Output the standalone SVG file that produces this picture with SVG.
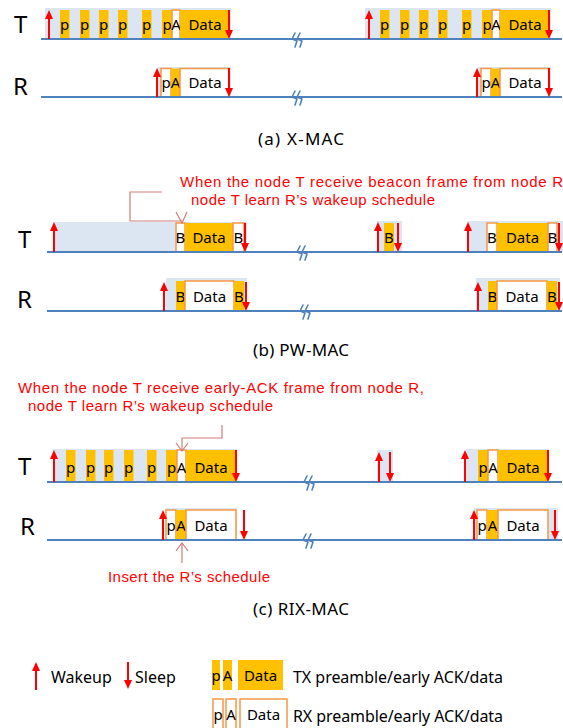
<svg xmlns="http://www.w3.org/2000/svg" width="563" height="728" viewBox="0 0 563 728">
<defs>
<style>
.bg{fill:#DCE6F2}
.tx{fill:#FFC000}
.rx{fill:#FFFFFF;stroke:#F79646;stroke-width:1.5}
.axis{stroke:#4F81BD;stroke-width:2;fill:none}
.arr{stroke:#FF0000;stroke-width:2;fill:none}
.up{marker-end:url(#ah)}
.brk{stroke:#4F81BD;stroke-width:1.6;fill:none;stroke-linejoin:round;stroke-linecap:round}
.call{stroke:#CD7F7B;stroke-width:1.2;fill:none}
text{font-family:"Noto Sans","Liberation Sans",sans-serif;fill:#000}
.b{font-size:15px;text-anchor:middle}
.big{font-size:24px}
.cap{font-size:17px;text-anchor:middle}
.note{font-family:"Liberation Sans",Arial,sans-serif;font-size:15px;fill:#FF0000}
.leg{font-size:16px}
</style>
<marker id="ah" markerWidth="9" markerHeight="8" refX="5" refY="4" orient="auto" markerUnits="userSpaceOnUse"><path d="M0,0 L9,4 L0,8 z" fill="#FF0000"/></marker>
<path id="brk" class="brk" d="M-3,-7 L-6,-1 L-1,1 L-3,7 M2,-7 L-1,-1 L4,1 L2,7"/>
</defs>
<rect width="563" height="728" fill="#FFFFFF"/>

<!-- (a) X-MAC -->
<g id="xmac">
<text class="big" x="14" y="33">T</text>
<text class="big" x="13" y="95">R</text>
<g id="xmac-T-left">
<rect class="bg" x="45" y="8" width="186" height="31"/>
<rect class="tx" x="60" y="10" width="9.5" height="29"/><text class="b" x="64.7" y="30">p</text>
<rect class="tx" x="80" y="10" width="9.5" height="29"/><text class="b" x="84.7" y="30">p</text>
<rect class="tx" x="99" y="10" width="9.5" height="29"/><text class="b" x="103.7" y="30">p</text>
<rect class="tx" x="118" y="10" width="9.5" height="29"/><text class="b" x="122.7" y="30">p</text>
<rect class="tx" x="142" y="10" width="9.5" height="29"/><text class="b" x="146.7" y="30">p</text>
<rect class="tx" x="162" y="10" width="10" height="29"/><text class="b" x="167" y="30">p</text>
<rect class="rx" x="172" y="10" width="8" height="29"/><text class="b" x="176" y="30">A</text>
<rect class="tx" x="180" y="10" width="49" height="29"/><text class="b" x="205" y="30">Data</text>
</g>
<g id="xmac-T-right" transform="translate(320,0)">
<rect class="bg" x="45" y="8" width="186" height="31"/>
<rect class="tx" x="60" y="10" width="9.5" height="29"/><text class="b" x="64.7" y="30">p</text>
<rect class="tx" x="80" y="10" width="9.5" height="29"/><text class="b" x="84.7" y="30">p</text>
<rect class="tx" x="99" y="10" width="9.5" height="29"/><text class="b" x="103.7" y="30">p</text>
<rect class="tx" x="118" y="10" width="9.5" height="29"/><text class="b" x="122.7" y="30">p</text>
<rect class="tx" x="142" y="10" width="9.5" height="29"/><text class="b" x="146.7" y="30">p</text>
<rect class="tx" x="162" y="10" width="10" height="29"/><text class="b" x="167" y="30">p</text>
<rect class="rx" x="172" y="10" width="8" height="29"/><text class="b" x="176" y="30">A</text>
<rect class="tx" x="180" y="10" width="49" height="29"/><text class="b" x="205" y="30">Data</text>
</g>
<g id="xmac-R-left">
<rect class="bg" x="157" y="67" width="74" height="30"/>
<rect class="rx" x="161" y="68.5" width="10" height="28.5"/><text class="b" x="166" y="88">p</text>
<rect class="tx" x="171" y="68.5" width="9" height="28.5"/><text class="b" x="175.5" y="88">A</text>
<rect class="rx" x="180" y="68.5" width="49" height="28.5"/><text class="b" x="205" y="88">Data</text>
</g>
<g id="xmac-R-right" transform="translate(320,0)">
<rect class="bg" x="157" y="67" width="74" height="30"/>
<rect class="rx" x="161" y="68.5" width="10" height="28.5"/><text class="b" x="166" y="88">p</text>
<rect class="tx" x="171" y="68.5" width="9" height="28.5"/><text class="b" x="175.5" y="88">A</text>
<rect class="rx" x="180" y="68.5" width="49" height="28.5"/><text class="b" x="205" y="88">Data</text>
</g>
<text class="cap" x="301" y="145" textLength="86" lengthAdjust="spacing">(a) X-MAC</text>
</g>

<!-- (b) PW-MAC -->
<g id="pwmac">
<text class="big" x="18" y="248">T</text>
<text class="big" x="17" y="308">R</text>
<text class="note" x="180" y="187" textLength="383" lengthAdjust="spacing">When the node T receive beacon frame from node R</text>
<text class="note" x="191" y="205" textLength="244" lengthAdjust="spacing">node T learn R’s wakeup schedule</text>
<g id="pw-T-left">
<rect class="bg" x="53" y="222" width="194" height="30"/>
<rect class="rx" x="176" y="223" width="9" height="29"/><text class="b" x="180.5" y="243">B</text>
<rect class="tx" x="185" y="223" width="48" height="29"/><text class="b" x="209" y="243">Data</text>
<rect class="rx" x="233" y="223" width="11" height="29"/><text class="b" x="238.5" y="243">B</text>
</g>
<g id="pw-T-mid">
<rect class="bg" x="377" y="221" width="25" height="31"/>
<rect class="tx" x="384" y="223" width="10" height="29"/><text class="b" x="389" y="243">B</text>
</g>
<g id="pw-T-right">
<rect class="bg" x="467" y="221" width="96" height="31"/>
<rect class="rx" x="487" y="223" width="10" height="29"/><text class="b" x="492" y="243">B</text>
<rect class="tx" x="497" y="223" width="51" height="29"/><text class="b" x="522.5" y="243">Data</text>
<rect class="rx" x="548" y="223" width="9" height="29"/><text class="b" x="552.5" y="243">B</text>
</g>
<g id="pw-R-left">
<rect class="bg" x="166" y="278" width="81" height="33"/>
<rect class="tx" x="176" y="281" width="9" height="30"/><text class="b" x="180.5" y="302">B</text>
<rect class="rx" x="185" y="281" width="49" height="30"/><text class="b" x="209.5" y="302">Data</text>
<rect class="tx" x="234" y="281" width="10" height="30"/><text class="b" x="239" y="302">B</text>
</g>
<g id="pw-R-right">
<rect class="bg" x="476" y="278" width="84" height="33"/>
<rect class="tx" x="488" y="281" width="9" height="30"/><text class="b" x="492.5" y="302">B</text>
<rect class="rx" x="497" y="281" width="50" height="30"/><text class="b" x="522" y="302">Data</text>
<rect class="tx" x="547" y="281" width="10" height="30"/><text class="b" x="552" y="302">B</text>
</g>
<text class="cap" x="301" y="356" textLength="96" lengthAdjust="spacing">(b) PW-MAC</text>
</g>

<!-- (c) RIX-MAC -->
<g id="rixmac">
<text class="big" x="18" y="475">T</text>
<text class="big" x="20" y="535">R</text>
<text class="note" x="18" y="393" textLength="406" lengthAdjust="spacing">When the node T receive early-ACK frame from node R,</text>
<text class="note" x="28" y="411" textLength="245" lengthAdjust="spacing">node T learn R’s wakeup schedule</text>
<text class="note" x="108" y="582" textLength="162" lengthAdjust="spacing">Insert the R’s schedule</text>
<g id="rix-T-left">
<rect class="bg" x="53" y="449" width="184" height="33"/>
<rect class="tx" x="66" y="450" width="9.5" height="32"/><text class="b" x="70.7" y="473">p</text>
<rect class="tx" x="86" y="450" width="9.5" height="32"/><text class="b" x="90.7" y="473">p</text>
<rect class="tx" x="104" y="450" width="9.5" height="32"/><text class="b" x="108.7" y="473">p</text>
<rect class="tx" x="124" y="450" width="9.5" height="32"/><text class="b" x="128.7" y="473">p</text>
<rect class="tx" x="147" y="450" width="9.5" height="32"/><text class="b" x="151.7" y="473">p</text>
<rect class="tx" x="166" y="450" width="11" height="32"/><text class="b" x="171.5" y="473">p</text>
<rect class="rx" x="177" y="450" width="9" height="32"/><text class="b" x="181.5" y="473">A</text>
<rect class="tx" x="186" y="450" width="50" height="32"/><text class="b" x="211" y="473">Data</text>
</g>
<g id="rix-T-mid">
<rect class="bg" x="377" y="450" width="16" height="32"/>
</g>
<g id="rix-T-right">
<rect class="bg" x="466" y="449" width="83" height="33"/>
<rect class="tx" x="478" y="450" width="10" height="32"/><text class="b" x="483" y="473">p</text>
<rect class="rx" x="488" y="450" width="10" height="32"/><text class="b" x="493" y="473">A</text>
<rect class="tx" x="498" y="450" width="50" height="32"/><text class="b" x="523" y="473">Data</text>
</g>
<g id="rix-R-left">
<rect class="bg" x="166" y="508" width="71" height="32"/>
<rect class="rx" x="166" y="510" width="10" height="30"/><text class="b" x="171" y="531">p</text>
<rect class="tx" x="176" y="510" width="10" height="30"/><text class="b" x="181" y="531">A</text>
<rect class="rx" x="186" y="510" width="50" height="30"/><text class="b" x="211" y="531">Data</text>
</g>
<g id="rix-R-right">
<rect class="bg" x="474" y="508" width="84" height="32"/>
<rect class="rx" x="477" y="510" width="10" height="30"/><text class="b" x="482" y="531">p</text>
<rect class="tx" x="487" y="510" width="11" height="30"/><text class="b" x="492.5" y="531">A</text>
<rect class="rx" x="498" y="510" width="50" height="30"/><text class="b" x="523" y="531">Data</text>
</g>
<text class="cap" x="301" y="615" textLength="96" lengthAdjust="spacing">(c) RIX-MAC</text>
</g>

<!-- legend -->
<g id="legend">
<text class="leg" x="51" y="683">Wakeup</text>
<text class="leg" x="135" y="683">Sleep</text>
<rect class="tx" x="212" y="660" width="8" height="30"/><text class="b" x="216" y="681">p</text>
<rect class="tx" x="223" y="660" width="9" height="30"/><text class="b" x="227.5" y="681">A</text>
<rect class="tx" x="238" y="660" width="45" height="30"/><text class="b" x="260.5" y="681">Data</text>
<text class="leg" x="293" y="683" textLength="210" lengthAdjust="spacing">TX preamble/early ACK/data</text>
<rect class="rx" x="213" y="699" width="10" height="32"/><text class="b" x="218" y="720">p</text>
<rect class="rx" x="226" y="699" width="10" height="32"/><text class="b" x="231" y="720">A</text>
<rect class="rx" x="240" y="699" width="47" height="32"/><text class="b" x="263.5" y="720">Data</text>
<text class="leg" x="293" y="722" textLength="210" lengthAdjust="spacing">RX preamble/early ACK/data</text>
</g>

<!-- connectors: axes, arrows, callouts -->
<g id="connectors">
<line class="axis" x1="41" y1="39" x2="562" y2="39"/>
<line class="axis" x1="41" y1="97" x2="562" y2="97"/>
<line class="axis" x1="47" y1="252" x2="562" y2="252"/>
<line class="axis" x1="47" y1="311" x2="562" y2="311"/>
<line class="axis" x1="47" y1="482" x2="562" y2="482"/>
<line class="axis" x1="47" y1="540" x2="562" y2="540"/>
<use href="#brk" x="298" y="40"/>
<use href="#brk" x="298" y="98"/>
<use href="#brk" x="303" y="253"/>
<use href="#brk" x="306" y="312"/>
<use href="#brk" x="310" y="483"/>
<use href="#brk" x="309" y="541"/>

<!-- X-MAC arrows -->
<line class="arr up" x1="49" y1="39" x2="49" y2="14"/>
<line class="arr up" x1="229" y1="10" x2="229" y2="35"/>
<line class="arr up" x1="369" y1="39" x2="369" y2="14"/>
<line class="arr up" x1="549" y1="10" x2="549" y2="35"/>
<line class="arr up" x1="157" y1="97" x2="157" y2="72"/>
<line class="arr up" x1="229" y1="68" x2="229" y2="93"/>
<line class="arr up" x1="477" y1="97" x2="477" y2="72"/>
<line class="arr up" x1="549" y1="68" x2="549" y2="93"/>

<!-- PW-MAC arrows -->
<line class="arr up" x1="54" y1="252" x2="54" y2="226"/>
<line class="arr up" x1="245" y1="223" x2="245" y2="248"/>
<line class="arr up" x1="378" y1="252" x2="378" y2="226"/>
<line class="arr up" x1="398" y1="223" x2="398" y2="248"/>
<line class="arr up" x1="468" y1="252" x2="468" y2="226"/>
<line class="arr up" x1="559" y1="223" x2="559" y2="248"/>
<line class="arr up" x1="164" y1="311" x2="164" y2="286"/>
<line class="arr up" x1="246" y1="282" x2="246" y2="307"/>
<line class="arr up" x1="478" y1="311" x2="478" y2="286"/>
<line class="arr up" x1="559" y1="282" x2="559" y2="307"/>

<!-- RIX-MAC arrows -->
<line class="arr up" x1="54" y1="482" x2="54" y2="454"/>
<line class="arr up" x1="236" y1="450" x2="236" y2="478"/>
<line class="arr up" x1="379" y1="482" x2="379" y2="456"/>
<line class="arr up" x1="390" y1="452" x2="390" y2="478"/>
<line class="arr up" x1="465" y1="482" x2="465" y2="454"/>
<line class="arr up" x1="548" y1="450" x2="548" y2="478"/>
<line class="arr up" x1="163" y1="540" x2="163" y2="514"/>
<line class="arr up" x1="244" y1="510" x2="244" y2="536"/>
<line class="arr up" x1="474" y1="540" x2="474" y2="514"/>
<line class="arr up" x1="555" y1="510" x2="555" y2="536"/>

<!-- legend arrows -->
<line class="arr up" x1="36" y1="690" x2="36" y2="666"/>
<line class="arr up" x1="128" y1="662" x2="128" y2="685"/>

<!-- callouts -->
<polyline class="call" points="162,192 130,192 130,221 182,221"/>
<polyline class="call" points="176,212 182,223 187,212"/>
<polyline class="call" points="222,425 222,438 182,438 182,451"/>
<polyline class="call" points="176,443 182,451 188,443"/>
<line class="call" x1="182" y1="543" x2="182" y2="563"/>
<polyline class="call" points="176,551 182,543 188,551"/>
</g>
</svg>
